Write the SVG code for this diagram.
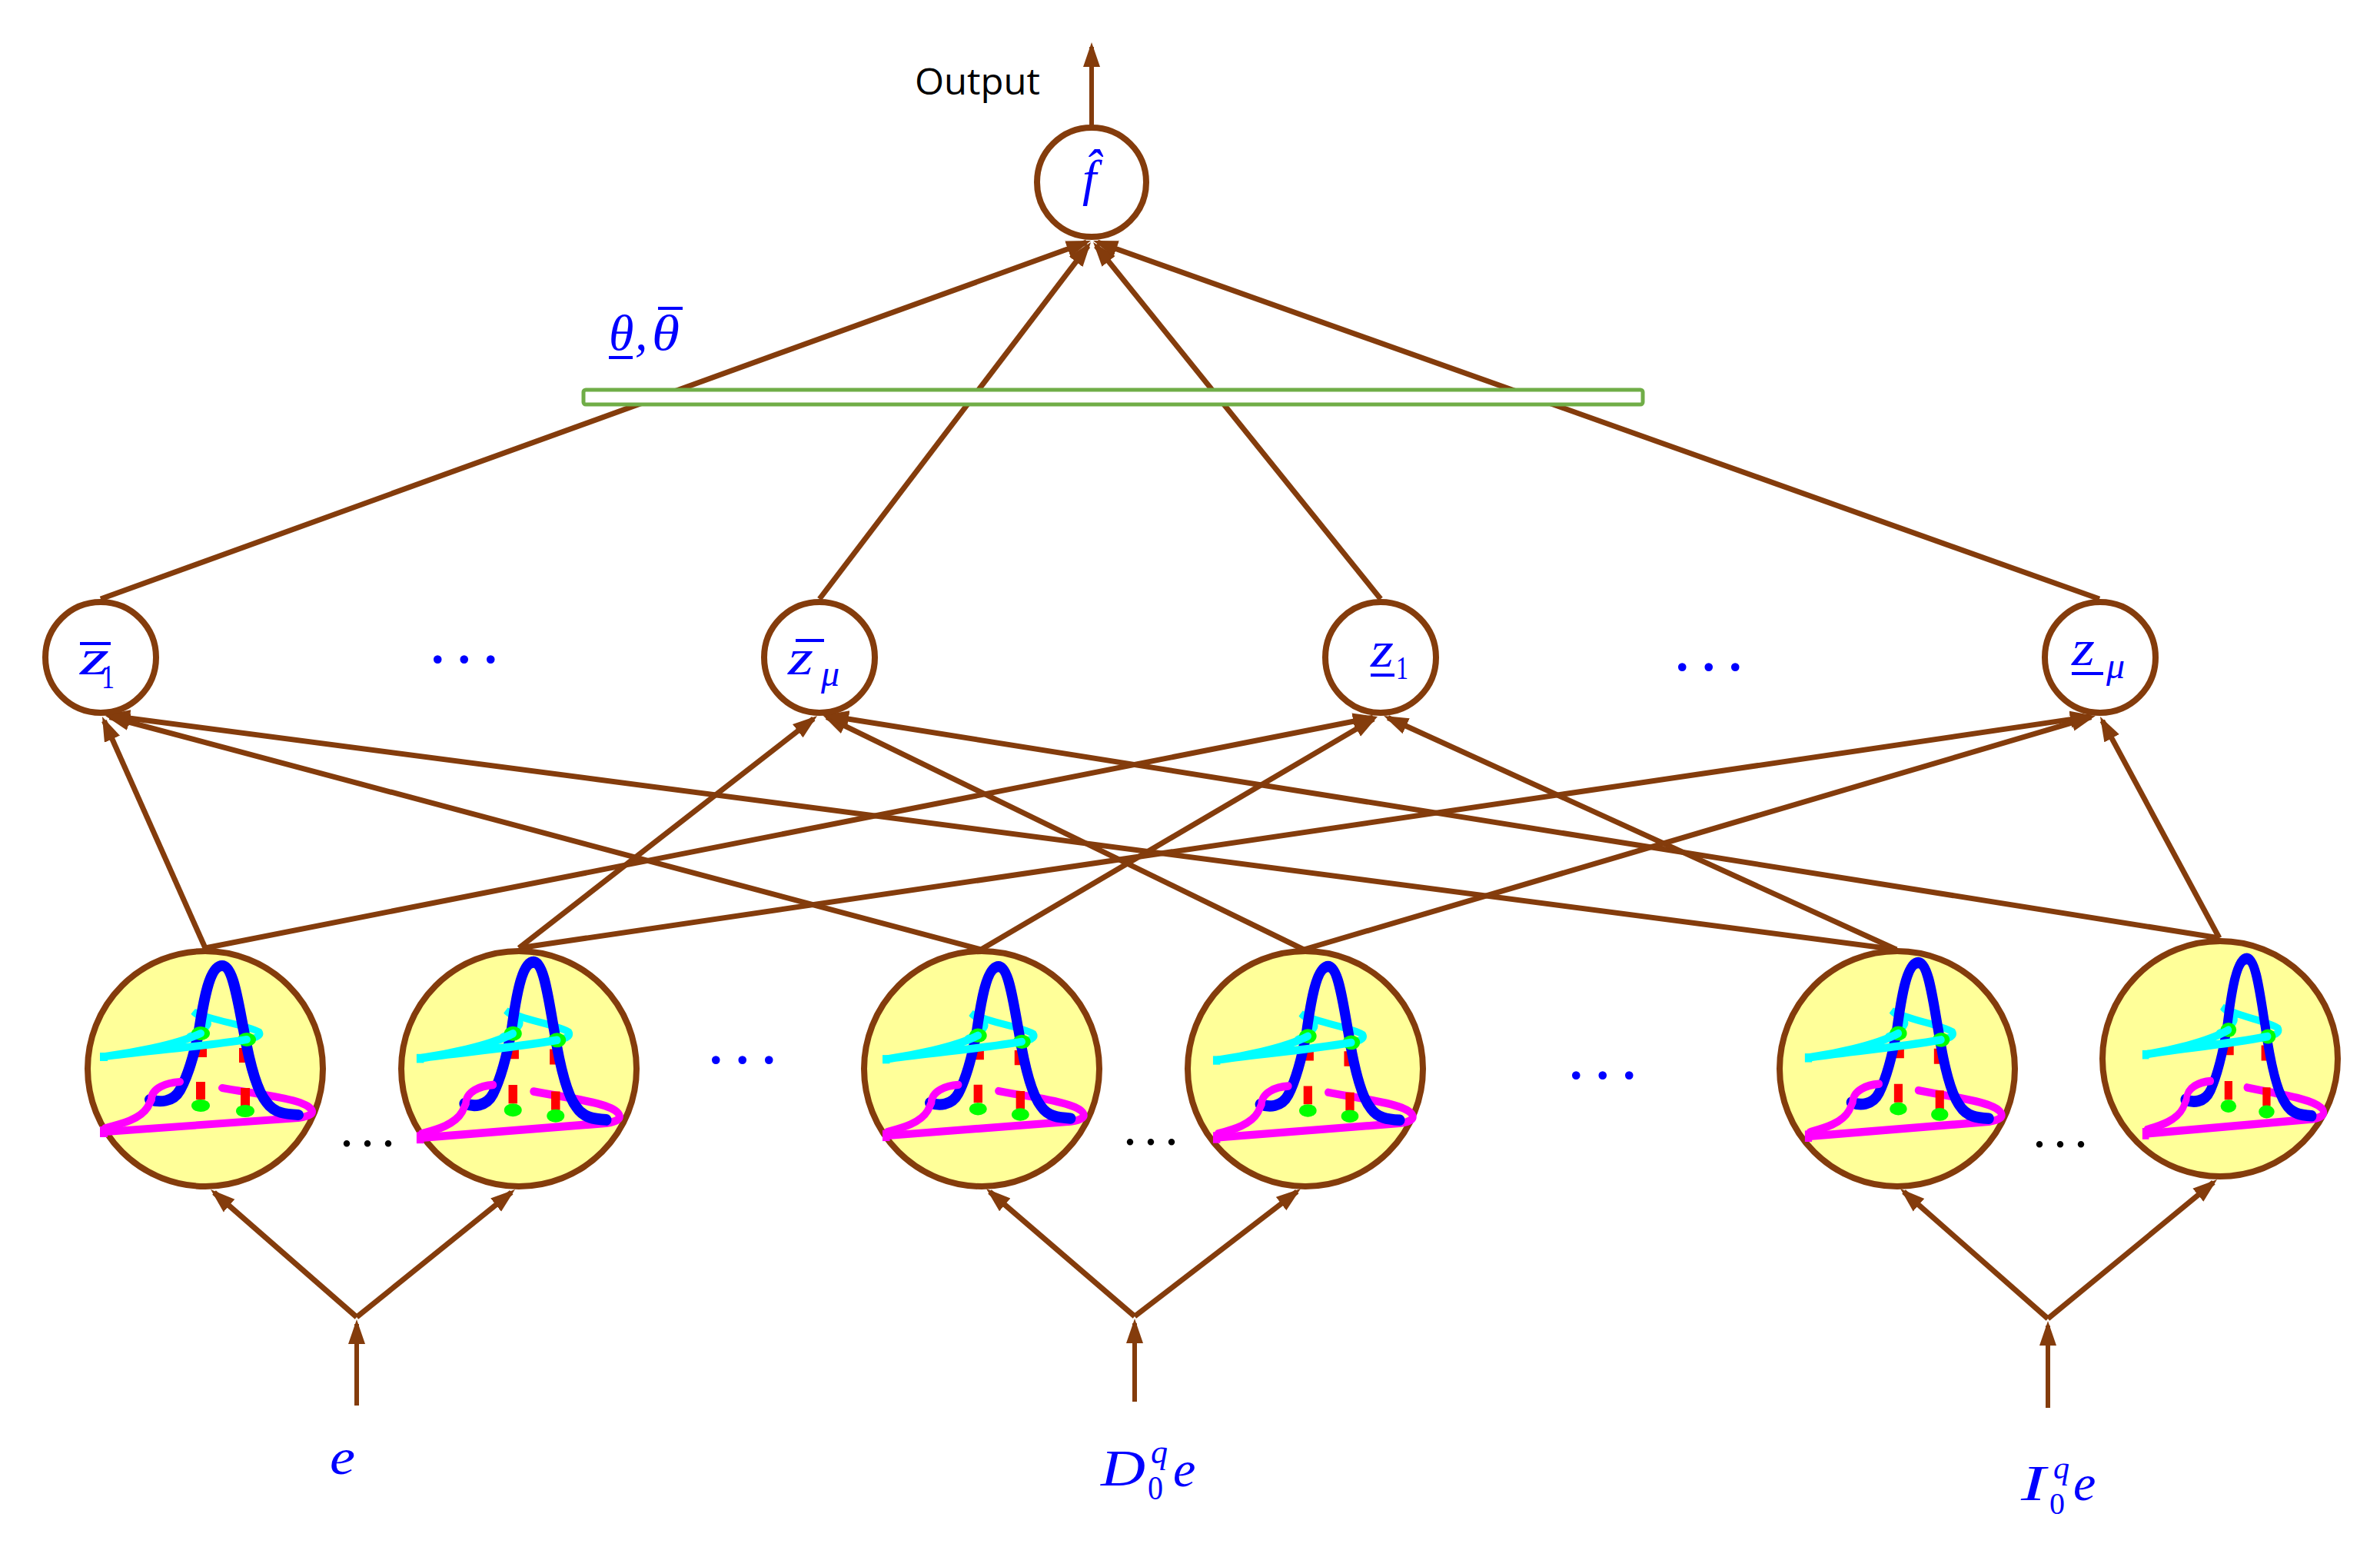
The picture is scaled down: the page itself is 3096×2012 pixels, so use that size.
<svg xmlns="http://www.w3.org/2000/svg" width="3096" height="2012" viewBox="0 0 3096 2012">
<style>
.c{fill:none;stroke:#843c0c;stroke-width:7;marker-end:url(#ah)}
.v{stroke-width:6}
.n{fill:#fff;stroke:#843c0c;stroke-width:8}
.y{fill:#ffff99;stroke:#843c0c;stroke-width:8}
.m{font-family:"Liberation Serif","Times New Roman",serif;font-style:italic;fill:#0000ff}
.r{font-family:"Liberation Serif","Times New Roman",serif;fill:#0000ff}
.b{fill:#0000ff}
.d1{font-family:"Liberation Serif",serif;font-size:90px;letter-spacing:12px;fill:#0000ff}
.d2{font-family:"Liberation Serif",serif;font-size:72px;letter-spacing:9px;fill:#000}
</style>
<defs>
<marker id="ah" markerUnits="userSpaceOnUse" markerWidth="34" markerHeight="24" viewBox="0 0 34 24" refX="26" refY="12" orient="auto"><path d="M0 1L32 12L0 23Z" fill="#843c0c"/></marker>
<g id="fz" fill="none" stroke-linecap="round">
<path d="M-4 -27V-15M50 -27V-8" stroke="#ff0000" stroke-width="12" stroke-linecap="butt"/>
<path d="M-130 82L121 64C135 62 145 58 135 50C120 38 60 32 22 25" stroke="#ff00ff" stroke-width="10"/>
<path d="M-20 -42C-6 -48 8 -56 2 -62C-4 -68 -12 -70 -15 -74C10 -62 50 -58 70 -48C74 -42 64 -40 54 -38" stroke="#00ffff" stroke-width="9"/>
<path d="M-72 40C-60 44 -42 44 -33 28C-22 8 -14 -20 -8 -50C-2 -90 6 -134 22 -134C36 -134 42 -90 50 -50C58 -5 68 30 80 44C90 58 105 59 121 60" stroke="#0000ff" stroke-width="14"/>
<path d="M-130 77C-110 72 -85 66 -75 50L-70 40C-70 25 -50 18 -33 17" stroke="#ff00ff" stroke-width="10"/>
<path d="M-132 75V89" stroke="#ff00ff" stroke-width="10" stroke-linecap="butt"/>
<ellipse cx="-6" cy="-46" rx="12" ry="9" fill="#00ff00"/>
<ellipse cx="54" cy="-38" rx="12" ry="9" fill="#00ff00"/>
<path d="M-130 -16C-100 -20 -40 -30 -6 -46M-130 -16C-90 -22 -10 -28 54 -38" stroke="#00ffff" stroke-width="10"/>
<path d="M-132 -21V-10" stroke="#00ffff" stroke-width="10" stroke-linecap="butt"/>
<path d="M-6 17V40M52 25V48" stroke="#ff0000" stroke-width="12" stroke-linecap="butt"/>
<ellipse cx="-6" cy="48" rx="12" ry="8" fill="#00ff00"/>
<ellipse cx="52" cy="55" rx="12" ry="8" fill="#00ff00"/>
</g>
</defs>
<rect width="3096" height="2012" fill="#fff"/>
<g id="connectors">
<path class="c v" d="M1420 163V61"/>
<path class="c" d="M131 779L1413.4 315"/>
<path class="c" d="M1066 779L1415.4 319.8"/>
<path class="c" d="M1796 779L1425.8 319.7"/>
<path class="c" d="M2731 779L1427.7 315"/>
<path class="c" d="M267 1233L135.4 937.5"/>
<path class="c" d="M1276 1235L142.8 932.5"/>
<path class="c" d="M2467 1235L143 930.8"/>
<path class="c" d="M675 1233L1058.3 934.7"/>
<path class="c" d="M1696 1235L1075.4 932.6"/>
<path class="c" d="M2887 1220L1078 931"/>
<path class="c" d="M267 1233L1786 933.2"/>
<path class="c" d="M1276 1235L1786.8 935"/>
<path class="c" d="M2467 1235L1805.5 933.5"/>
<path class="c" d="M675 1233L2719 931.9"/>
<path class="c" d="M1696 1235L2720.2 932.7"/>
<path class="c" d="M2887 1220L2734.8 937.3"/>
<path class="c" d="M464 1713L278.5 1551"/>
<path class="c" d="M464 1713L665.3 1550.8"/>
<path class="c" d="M1476 1712L1287.5 1550"/>
<path class="c" d="M1476 1712L1687.2 1549.7"/>
<path class="c" d="M2664 1715L2476.5 1550"/>
<path class="c" d="M2664 1715L2879.4 1537.8"/>
<path class="c v" d="M464 1828V1722"/>
<path class="c v" d="M1476 1823V1721"/>
<path class="c v" d="M2664 1831V1724"/>
</g>
<g id="theta-box">
<rect x="759" y="507" width="1378" height="19" rx="3" fill="#fff" stroke="#70ad47" stroke-width="5"/>
<text class="m" x="792" y="455" font-size="66">θ</text>
<rect class="b" x="792" y="463" width="31" height="4"/>
<text class="m" x="826" y="455" font-size="66">,</text>
<text class="m" x="848" y="455" font-size="66" textLength="36" lengthAdjust="spacingAndGlyphs">θ</text>
<rect class="b" x="856" y="399" width="32" height="4"/>
</g>
<g id="output">
<text x="1190" y="123" font-family="Open Sans, sans-serif" font-size="47" textLength="163" lengthAdjust="spacingAndGlyphs" fill="#000">Output</text>
</g>
<g id="f-hat">
<ellipse class="n" cx="1420" cy="237" rx="71" ry="71"/>
<text class="m" x="1408" y="254" font-size="66">f&#x302;</text>
</g>
<g id="z-bar-1">
<ellipse class="n" cx="131" cy="855" rx="72" ry="72"/>
<text class="m" x="104" y="877" font-size="66" textLength="38" lengthAdjust="spacingAndGlyphs">z</text>
<rect class="b" x="104" y="835" width="40" height="4"/>
<text class="r" x="132" y="895" font-size="44" textLength="17" lengthAdjust="spacingAndGlyphs">1</text>
</g>
<g id="z-bar-mu">
<ellipse class="n" cx="1066" cy="855" rx="72" ry="72"/>
<text class="m" x="1025" y="877" font-size="66" textLength="33" lengthAdjust="spacingAndGlyphs">z</text>
<rect class="b" x="1035" y="831" width="37" height="4"/>
<text class="m" x="1068" y="892" font-size="48">μ</text>
</g>
<g id="z-under-1">
<ellipse class="n" cx="1796" cy="855" rx="72" ry="72"/>
<text class="m" x="1783" y="867" font-size="66" textLength="30" lengthAdjust="spacingAndGlyphs">z</text>
<rect class="b" x="1783" y="876" width="31" height="4"/>
<text class="r" x="1816" y="883" font-size="42" textLength="16" lengthAdjust="spacingAndGlyphs">1</text>
</g>
<g id="z-under-mu">
<ellipse class="n" cx="2732" cy="855" rx="72" ry="72"/>
<text class="m" x="2695" y="865" font-size="66" textLength="30" lengthAdjust="spacingAndGlyphs">z</text>
<rect class="b" x="2695" y="874" width="41" height="4"/>
<text class="m" x="2740" y="882" font-size="48">μ</text>
</g>
<g id="fuzzy-1"><ellipse class="y" cx="267" cy="1390" rx="153" ry="153"/><use href="#fz" transform="translate(267 1390)"/></g>
<g id="fuzzy-2"><ellipse class="y" cx="675" cy="1390" rx="153" ry="153"/><use href="#fz" transform="translate(673 1393) scale(.957 1.058)"/></g>
<g id="fuzzy-3"><ellipse class="y" cx="1277" cy="1390" rx="153" ry="153"/><use href="#fz" transform="translate(1278 1393.5) scale(.949 1.018)"/></g>
<g id="fuzzy-4"><ellipse class="y" cx="1698" cy="1390" rx="153" ry="153"/><use href="#fz" transform="translate(1707 1395) scale(.942 1.03)"/></g>
<g id="fuzzy-5"><ellipse class="y" cx="2468" cy="1390" rx="153" ry="153"/><use href="#fz" transform="translate(2475 1392) scale(.928 1.045)"/></g>
<g id="fuzzy-6"><ellipse class="y" cx="2888" cy="1377" rx="153" ry="153"/><use href="#fz" transform="translate(2904 1388) scale(.855 1.054)"/></g>
<g id="ellipses">
<text class="d1" x="558" y="862">...</text>
<text class="d1" x="2177" y="872">...</text>
<text class="d1" x="920" y="1383">...</text>
<text class="d1" x="2039" y="1403">...</text>
<text class="d2" x="442" y="1491">...</text>
<text class="d2" x="1461" y="1489">...</text>
<text class="d2" x="2644" y="1492">...</text>
</g>
<g id="input-e"><text class="m" x="429" y="1917" font-size="66" textLength="33" lengthAdjust="spacingAndGlyphs">e</text></g>
<g id="input-d">
<text class="m" x="1432" y="1932" font-size="68" textLength="58" lengthAdjust="spacingAndGlyphs">D</text>
<text class="m" x="1497" y="1903" font-size="44">q</text>
<text class="r" x="1493" y="1950" font-size="44" textLength="20" lengthAdjust="spacingAndGlyphs">0</text>
<text class="m" x="1526" y="1933" font-size="66">e</text>
</g>
<g id="input-i">
<text class="m" x="2629" y="1951" font-size="66" textLength="32" lengthAdjust="spacingAndGlyphs">I</text>
<text class="m" x="2671" y="1923" font-size="42">q</text>
<text class="r" x="2666" y="1969" font-size="40" textLength="20" lengthAdjust="spacingAndGlyphs">0</text>
<text class="m" x="2697" y="1951" font-size="66">e</text>
</g>
</svg>
